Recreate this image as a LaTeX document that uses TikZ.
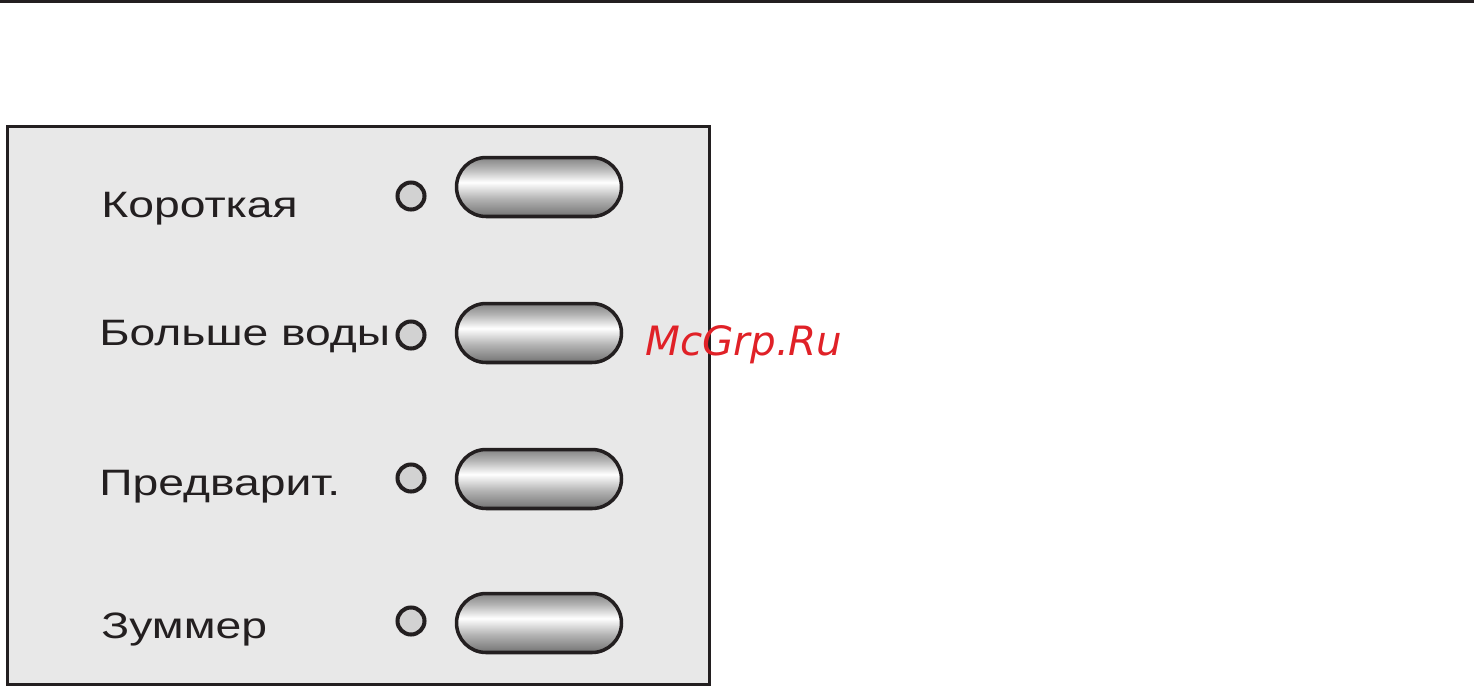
\documentclass[tikz,border=0pt]{standalone}
\usepackage{fontspec}
\setmainfont{Liberation Sans}
\newfontfamily\lblfont[FakeStretch=1.26]{Liberation Sans}
\newfontfamily\wmfont{DejaVu Sans}
\usetikzlibrary{shapes.misc}

\definecolor{panelgray}{HTML}{E8E8E8}
\definecolor{ledgray}{HTML}{D2D2D2}
\definecolor{linegray}{HTML}{231F20}
\definecolor{wmred}{HTML}{E02127}

% light stripe a bit above the middle of each key
\pgfdeclareverticalshading{keyshade}{100bp}{%
  color(0bp)=(black!55); color(25bp)=(black!55);
  color(40bp)=(black!30); color(54bp)=(white);
  color(66bp)=(black!30); color(75bp)=(black!48);
  color(100bp)=(black!48)}

\begin{document}
\begin{tikzpicture}[x=0.02cm,y=-0.02cm,
    panel/.style={draw=linegray,fill=panelgray,line width=1.7pt},
    keybtn/.style={draw=linegray,rounded rectangle,shading=keyshade,
                   minimum width=3.3cm,minimum height=1.18cm,
                   inner sep=0pt,line width=2pt},
    led/.style={draw=linegray,fill=ledgray,circle,minimum size=0.54cm,
                inner sep=0pt,line width=2.3pt},
    txt/.style={anchor=base west,inner sep=0pt,text=linegray,
                font=\lblfont\fontsize{20.9pt}{24pt}\selectfont},
]
\useasboundingbox (0,0) rectangle (1474,687);

% ---- rule at the top -----------------------------------------------------
\draw[linegray,line width=1.7pt] (0,1.5) coordinate (ruleL) -- (1474,1.5) coordinate (ruleR);

% ---- panel ---------------------------------------------------------------
\draw[panel] (7.5,126.5) rectangle (709.5,684.5);

% ---- labels, lamps and keys ----------------------------------------------
\foreach \n/\tx/\ty/\ly/\by/\txt in {1/101/217/196/187/Короткая,
                                     2/99/345/335/333/Больше воды,
                                     3/99/495/478/479/Предварит.,
                                     4/101/638/621/623/Зуммер} {
    \node[txt] (lbl\n) at (\tx,\ty) {\txt};
    \node[led] (led\n) at (411,\ly) {};
    \node[keybtn] (btn\n) at (539,\by) {};
}

% ---- watermark -----------------------------------------------------------
\node[anchor=base west,inner sep=0pt,text=wmred,
      font=\wmfont\itshape\fontsize{23pt}{27pt}\selectfont] (wm) at (645,355) {McGrp.Ru};

\end{tikzpicture}
\end{document}
